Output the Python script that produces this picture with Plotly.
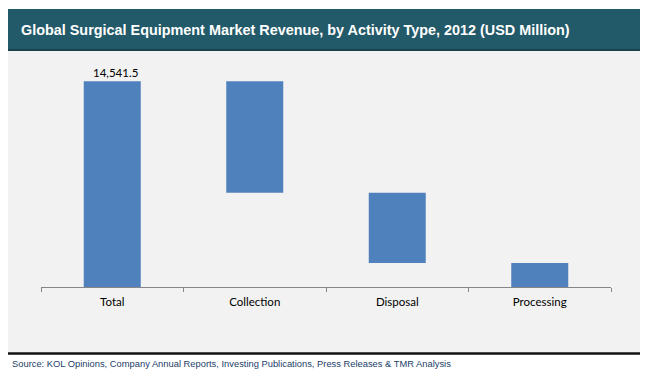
import plotly.graph_objects as go

W, H = 650, 380

categories = ["Total", "Collection", "Disposal", "Processing"]
values = [14541.5, -7885.0, -4962.0, -1694.5]
measures = ["absolute", "relative", "relative", "relative"]
total_label = "14,541.5"

title_text = "Global Surgical Equipment Market Revenue, by Activity Type, 2012 (USD Million)"
source_text = "Source: KOL Opinions, Company Annual Reports, Investing Publications, Press Releases & TMR Analysis"

BAR = "#4F81BD"


def px(x):
    return x / W


def py(y):
    return 1 - y / H


fig = go.Figure()
fig.add_trace(go.Waterfall(
    x=categories,
    y=values,
    measure=measures,
    increasing=dict(marker=dict(color=BAR)),
    decreasing=dict(marker=dict(color=BAR)),
    totals=dict(marker=dict(color=BAR)),
    connector=dict(visible=False),
    hoverinfo="skip",
))

fig.add_annotation(
    x=categories[0], y=values[0], xref="x", yref="y",
    text=total_label, showarrow=False, yanchor="bottom", yshift=0, xshift=3,
    font=dict(family="Lato, Open Sans, sans-serif", size=11.5, color="#000000"),
)

shapes = [
    dict(type="rect", xref="paper", yref="paper", x0=px(8), x1=px(640), y0=py(352), y1=py(51),
         fillcolor="#F2F2F2", line=dict(width=0), layer="below"),
    dict(type="rect", xref="paper", yref="paper", x0=px(8), x1=px(640), y0=py(50), y1=py(9),
         fillcolor="#235A69", line=dict(width=0), layer="below"),
    dict(type="line", xref="paper", yref="paper", x0=px(8), x1=px(640), y0=py(50), y1=py(50),
         line=dict(color="#17424E", width=2)),
    dict(type="line", xref="paper", yref="paper", x0=px(8), x1=px(640), y0=py(353.5), y1=py(353.5),
         line=dict(color="#111111", width=2.5)),
]

fig.add_annotation(
    x=px(19), y=py(30.5), xref="paper", yref="paper", xanchor="left", yanchor="middle",
    text="<b>" + title_text + "</b>", showarrow=False,
    font=dict(family="Liberation Sans, Arial, sans-serif", size=14.4, color="#FFFFFF"),
)
fig.add_annotation(
    x=px(10), y=py(363.5), xref="paper", yref="paper", xanchor="left", yanchor="middle",
    text=source_text, showarrow=False,
    font=dict(family="Liberation Sans, Arial, sans-serif", size=9.35, color="#23406A"),
)

fig.update_layout(
    width=W, height=H,
    margin=dict(l=0, r=0, t=0, b=0),
    paper_bgcolor="#FFFFFF",
    plot_bgcolor="rgba(0,0,0,0)",
    showlegend=False,
    shapes=shapes,
    waterfallgap=0.6,
    xaxis=dict(
        domain=[px(41), px(611)],
        showgrid=False, showline=True, linecolor="#868686", linewidth=1,
        ticks="outside", tickson="boundaries", ticklen=4, tickcolor="#868686",
        ticklabelstandoff=4,
        tickfont=dict(family="Lato, Open Sans, sans-serif", size=11.5, color="#000000"),
        fixedrange=True,
    ),
    yaxis=dict(
        domain=[py(287), py(62)],
        range=[0, 15900],
        visible=False, showgrid=False, zeroline=False,
        fixedrange=True,
    ),
)

fig.write_html(
    "out.html",
    config={"displayModeBar": False, "staticPlot": True},
    post_script="document.body.style.margin='0';document.body.style.padding='0';",
)
